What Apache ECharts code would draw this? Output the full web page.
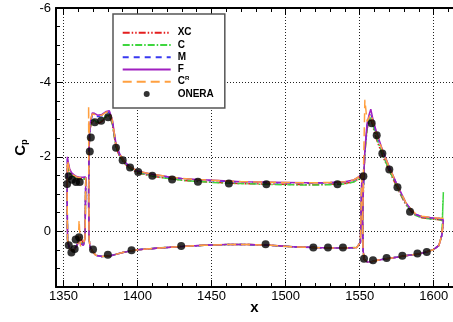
<!DOCTYPE html>
<html><head><meta charset="utf-8">
<script src="https://cdn.jsdelivr.net/npm/echarts@6/dist/echarts.min.js"></script>
<style>html,body{margin:0;padding:0;background:#fff}#c{width:453px;height:322px}</style>
</head><body><div id="c"></div>
<script>
// x-positions along each element surface (shared by all models)
const slatX = [1365.1, 1364.6, 1363.5, 1362.5, 1361.5, 1360.6, 1360.0, 1359.0, 1357.8, 1356.5, 1355.4, 1354.3, 1353.4, 1352.8, 1352.5, 1352.7, 1353.3, 1354.2, 1355.4, 1357.0, 1358.8, 1361.0, 1363.3, 1365.1];
const mainX = [1551.5, 1550.5, 1548, 1540, 1530, 1520, 1505, 1490, 1475, 1460, 1445, 1430, 1415, 1400, 1390, 1382, 1376, 1372, 1369.5, 1368, 1367.3, 1367.0, 1367.3, 1368, 1369.5, 1371, 1373, 1376, 1379, 1381, 1383, 1385.5, 1388, 1391, 1395, 1400, 1405, 1410, 1420, 1430, 1440, 1455, 1470, 1485, 1500, 1515, 1530, 1540, 1546, 1549, 1551, 1551.5];
const flapX = [1606.5, 1605.8, 1604, 1598, 1592, 1588, 1585, 1581, 1575.5, 1570, 1565.5, 1561.5, 1559, 1557.5, 1556.5, 1555, 1553.5, 1552.5, 1552, 1552.3, 1553, 1555, 1558, 1562, 1568, 1575, 1582, 1589, 1595, 1600, 1603.5, 1605.5, 1606.5];

// XC
const xcSlat = [-1.40, 0.15, 0.35, 0.40, 0.15, 0.10, 0.30, 0.40, 0.47, 0.55, 0.58, 0.47, 0.35, 0.22, -0.90, -1.75, -1.65, -1.55, -1.50, -1.46, -1.42, -1.40, -1.40, -1.40];
const xcMain = [-1.50, 0.30, 0.44, 0.45, 0.45, 0.44, 0.42, 0.38, 0.36, 0.36, 0.38, 0.41, 0.45, 0.50, 0.57, 0.66, 0.68, 0.65, 0.54, 0.42, 0.20, -0.90, -2.20, -2.75, -2.98, -2.95, -2.88, -2.95, -3.08, -3.10, -2.88, -2.25, -2.00, -1.83, -1.68, -1.57, -1.52, -1.48, -1.42, -1.37, -1.34, -1.31, -1.28, -1.27, -1.26, -1.25, -1.26, -1.28, -1.33, -1.40, -1.47, -1.50];
const xcFlap = [-0.28, -0.30, -0.31, -0.33, -0.36, -0.42, -0.52, -0.72, -1.15, -1.62, -2.02, -2.45, -2.80, -3.02, -2.95, -2.75, -2.10, -1.15, -0.20, 0.50, 0.75, 0.83, 0.82, 0.78, 0.74, 0.70, 0.65, 0.62, 0.56, 0.49, 0.38, 0.10, -0.28];
// C
const cSlat = [-1.40, 0.16, 0.36, 0.40, 0.30, 0.20, 0.28, 0.39, 0.47, 0.55, 0.58, 0.47, 0.35, 0.22, -0.90, -1.78, -1.66, -1.56, -1.50, -1.46, -1.42, -1.40, -1.40, -1.40];
const cMain = [-1.50, 0.30, 0.44, 0.45, 0.45, 0.44, 0.42, 0.38, 0.36, 0.36, 0.38, 0.41, 0.45, 0.50, 0.57, 0.66, 0.68, 0.65, 0.54, 0.42, 0.20, -0.90, -2.22, -2.78, -3.02, -2.98, -2.92, -2.98, -3.10, -3.12, -2.90, -2.27, -2.01, -1.84, -1.69, -1.58, -1.53, -1.48, -1.42, -1.37, -1.34, -1.30, -1.28, -1.26, -1.25, -1.24, -1.25, -1.27, -1.32, -1.39, -1.46, -1.50];
const cFlap = [-1.05, -0.30, -0.31, -0.33, -0.36, -0.42, -0.53, -0.74, -1.17, -1.64, -2.05, -2.50, -2.85, -3.05, -2.98, -2.78, -2.12, -1.15, -0.20, 0.50, 0.75, 0.83, 0.82, 0.78, 0.74, 0.70, 0.65, 0.62, 0.56, 0.49, 0.38, 0.10, -1.05];
// M
const mSlat = [-1.45, 0.18, 0.37, 0.41, 0.33, 0.26, 0.30, 0.38, 0.46, 0.54, 0.58, 0.48, 0.36, 0.24, -0.95, -1.95, -1.80, -1.65, -1.56, -1.50, -1.46, -1.44, -1.44, -1.45];
const mMain = [-1.54, 0.30, 0.44, 0.45, 0.45, 0.44, 0.42, 0.38, 0.36, 0.36, 0.38, 0.41, 0.45, 0.50, 0.57, 0.66, 0.68, 0.65, 0.54, 0.42, 0.20, -0.90, -2.25, -2.85, -3.12, -3.12, -3.08, -3.10, -3.18, -3.20, -2.97, -2.33, -2.06, -1.87, -1.72, -1.61, -1.56, -1.52, -1.46, -1.41, -1.38, -1.35, -1.32, -1.31, -1.30, -1.29, -1.30, -1.32, -1.37, -1.44, -1.51, -1.54];
const mFlap = [-0.30, -0.33, -0.34, -0.36, -0.39, -0.45, -0.56, -0.77, -1.22, -1.71, -2.14, -2.60, -2.95, -3.20, -3.10, -2.85, -2.15, -1.15, -0.20, 0.50, 0.75, 0.83, 0.82, 0.78, 0.74, 0.70, 0.65, 0.62, 0.56, 0.49, 0.38, 0.10, -0.30];
// F
const fSlat = [-1.46, 0.20, 0.38, 0.42, 0.33, 0.25, 0.29, 0.38, 0.46, 0.54, 0.58, 0.48, 0.36, 0.25, -1.00, -2.00, -1.85, -1.68, -1.58, -1.52, -1.47, -1.45, -1.45, -1.46];
const fMain = [-1.55, 0.30, 0.44, 0.45, 0.45, 0.44, 0.42, 0.38, 0.36, 0.36, 0.38, 0.41, 0.45, 0.50, 0.57, 0.66, 0.68, 0.65, 0.54, 0.42, 0.20, -0.90, -2.30, -2.90, -3.18, -3.17, -3.12, -3.14, -3.22, -3.24, -3.00, -2.35, -2.08, -1.88, -1.73, -1.62, -1.57, -1.53, -1.47, -1.42, -1.39, -1.36, -1.33, -1.32, -1.31, -1.30, -1.31, -1.33, -1.38, -1.45, -1.52, -1.55];
const fFlap = [-0.30, -0.33, -0.34, -0.36, -0.39, -0.45, -0.56, -0.78, -1.23, -1.73, -2.17, -2.65, -3.00, -3.28, -3.15, -2.90, -2.20, -1.20, -0.20, 0.50, 0.75, 0.83, 0.82, 0.78, 0.74, 0.70, 0.65, 0.62, 0.56, 0.49, 0.38, 0.10, -0.30];
// C^R
const crSlat = [-1.45, 0.18, 0.36, 0.35, 0.40, -0.30, 0.30, 0.38, 0.46, 0.54, 0.58, 0.48, 0.36, 0.24, -0.95, -1.90, -1.80, -1.64, -1.55, -1.50, -1.46, -1.44, -1.44, -1.45];
const crMain = [-1.55, 0.30, 0.44, 0.45, 0.45, 0.44, 0.42, 0.38, 0.36, 0.36, 0.38, 0.41, 0.45, 0.50, 0.57, 0.66, 0.68, 0.65, 0.54, 0.42, 0.20, -3.37, -2.60, -2.95, -3.15, -3.14, -3.10, -3.12, -3.20, -3.22, -2.98, -2.34, -2.07, -1.88, -1.73, -1.62, -1.57, -1.53, -1.47, -1.42, -1.39, -1.36, -1.33, -1.32, -1.31, -1.30, -1.31, -1.33, -1.38, -1.45, -1.52, -1.55];
const crFlap = [-0.35, -0.34, -0.35, -0.37, -0.40, -0.46, -0.57, -0.78, -1.22, -1.72, -2.15, -2.62, -2.95, -3.15, -3.10, -2.95, -3.53, -1.50, -0.20, 0.50, 0.75, 0.83, 0.82, 0.78, 0.74, 0.70, 0.65, 0.62, 0.56, 0.49, 0.38, 0.10, -0.35];

// ONERA experiment
const onX = [1352.5, 1353.5, 1355.8, 1358.5, 1361.0, 1353.6, 1355.4, 1357.6, 1358.3, 1360.6, 1367.8, 1368.5, 1371.2, 1375.5, 1380.2, 1385.5, 1390.0, 1395.0, 1400.5, 1410.0, 1423.4, 1440.8, 1461.7, 1487.0, 1535.0, 1552.5, 1370.0, 1380.0, 1396.0, 1429.5, 1486.5, 1518.7, 1528.6, 1538.7, 1558.1, 1561.5, 1565.3, 1570.0, 1575.5, 1584.0, 1552.9, 1559.0, 1568.2, 1578.8, 1589.0, 1595.3];
const onCp = [-1.27, -1.48, -1.38, -1.32, -1.32, 0.38, 0.57, 0.48, 0.22, 0.16, -2.14, -2.52, -2.93, -2.97, -3.06, -2.24, -1.91, -1.71, -1.59, -1.49, -1.39, -1.33, -1.28, -1.26, -1.26, -1.48, 0.49, 0.63, 0.51, 0.40, 0.35, 0.44, 0.44, 0.44, -2.90, -2.58, -2.09, -1.66, -1.18, -0.52, 0.74, 0.78, 0.72, 0.66, 0.60, 0.56];

const xTickLabels = ['1350', '1400', '1450', '1500', '1550', '1600'];
const yTickLabels = ['-6', '-4', '-2', '0'];

function build(s, m, f) {
  const out = [];
  slatX.forEach((x, i) => out.push([x, s[i]]));
  out.push(['-', '-']);
  mainX.forEach((x, i) => out.push([x, m[i]]));
  out.push(['-', '-']);
  flapX.forEach((x, i) => out.push([x, f[i]]));
  return out;
}
const FONT = 'Liberation Sans, Arial, Helvetica, sans-serif';

const models = [
  { name: 'XC', color: '#e41e1e', type: [7, 2, 1.5, 2, 1.5, 2], d: build(xcSlat, xcMain, xcFlap) },
  { name: 'C', color: '#3ed63e', type: [7, 2, 1.5, 2], d: build(cSlat, cMain, cFlap) },
  { name: 'M', color: '#3838f0', type: [6, 5], d: build(mSlat, mMain, mFlap) },
  { name: 'F', color: '#a020c0', type: 'solid', d: build(fSlat, fMain, fFlap) },
  { name: 'CR', color: '#ffa040', type: [9, 5], d: build(crSlat, crMain, crFlap) }
];

const series = models.map(m => ({
  name: m.name, type: 'line', data: m.d, symbol: 'none', showSymbol: false,
  connectNulls: false, silent: true, animation: false,
  lineStyle: { color: m.color, width: 1.5, type: m.type },
  itemStyle: { color: m.color }
}));
series.push({
  name: 'ONERA', type: 'scatter', data: onX.map((x, i) => [x, onCp[i]]),
  symbol: 'circle', symbolSize: 8, itemStyle: { color: '#000' }, silent: true, animation: false, z: 5
});

const axisCommon = {
  type: 'value', min: 1345, max: 1613, splitNumber: 5,
  axisLine: { show: true, onZero: false, lineStyle: { color: '#000', width: 2 } },
  axisTick: { show: true, inside: true, length: 7, lineStyle: { color: '#000', width: 1 } },
  minorTick: { show: true, splitNumber: 5, length: 4, lineStyle: { color: '#000', width: 1 } }
};

const legendData = models.map(m => ({ name: m.name, itemStyle: { opacity: 0 } }));
legendData.push({ name: 'ONERA', icon: 'circle' });

const chart = echarts.init(document.getElementById('c'), null, { renderer: 'canvas' });
chart.setOption({
  animation: false,
  backgroundColor: '#fff',
  textStyle: { fontFamily: FONT },
  grid: { left: 56, top: 8, right: 0, bottom: 35, containLabel: false, outerBoundsMode: 'none' },
  xAxis: [
    Object.assign({}, axisCommon, {
      position: 'bottom',
      axisLabel: { show: true, showMinLabel: false, showMaxLabel: false, fontSize: 13, color: '#000', margin: 3, fontFamily: FONT,
        formatter: v => (xTickLabels.indexOf(String(v)) >= 0 ? String(v) : '') },
      splitLine: { show: true, lineStyle: { color: '#222', width: 1, type: [1, 2] } },
      name: 'x', nameLocation: 'middle', nameGap: 13, nameMoveOverlap: false,
      nameTextStyle: { fontWeight: 'bold', fontSize: 15, color: '#000', fontFamily: FONT }
    }),
    Object.assign({}, axisCommon, {
      position: 'top', axisLabel: { show: false }, splitLine: { show: false }
    })
  ],
  yAxis: [{
    type: 'value', inverse: true, min: -6, max: 1.5, splitNumber: 4,
    axisLine: { show: true, onZero: false, lineStyle: { color: '#000', width: 2 } },
    axisTick: { show: true, inside: true, length: 7, lineStyle: { color: '#000' } },
    minorTick: { show: true, splitNumber: 4, length: 4, lineStyle: { color: '#000' } },
    axisLabel: { show: true, showMaxLabel: false, fontSize: 13, color: '#000', margin: 5, fontFamily: FONT,
      formatter: v => (yTickLabels.indexOf(String(v)) >= 0 ? String(v) : '') },
    splitLine: { show: true, lineStyle: { color: '#222', width: 1, type: [1, 2] } },
    name: '{c|C}{p|p}', nameLocation: 'middle', nameGap: 27, nameRotate: 90, nameMoveOverlap: false,
    nameTextStyle: { color: '#000', fontFamily: FONT,
      rich: { c: { fontSize: 15, fontWeight: 'bold', fontFamily: FONT, color: '#000' },
              p: { fontSize: 9, fontWeight: 'bold', fontFamily: FONT, color: '#000', padding: [7, 0, 0, 0] } } }
  }],
  legend: {
    orient: 'vertical', left: 113, top: 14, z: 10,
    data: legendData,
    itemWidth: 48, itemHeight: 6, itemGap: 0.26,
    padding: [12.7, 11, 8, 8.7],
    backgroundColor: '#fff', borderColor: '#555', borderWidth: 1.5,
    selectedMode: false,
    formatter: n => (n === 'CR' ? '{b|C}{s|R}' : '{b|' + n + '}'),
    textStyle: { fontFamily: FONT, fontSize: 10, fontWeight: 'bold', color: '#000', lineHeight: 12,
      rich: { b: { fontSize: 10, fontWeight: 'bold', fontFamily: FONT, color: '#000', lineHeight: 12, padding: [0, 0, 0, 2] },
              s: { fontSize: 6, fontWeight: 'bold', fontFamily: FONT, color: '#000', padding: [0, 0, 6, 0] } } }
  },
  series: series
});
</script>
</body></html>
